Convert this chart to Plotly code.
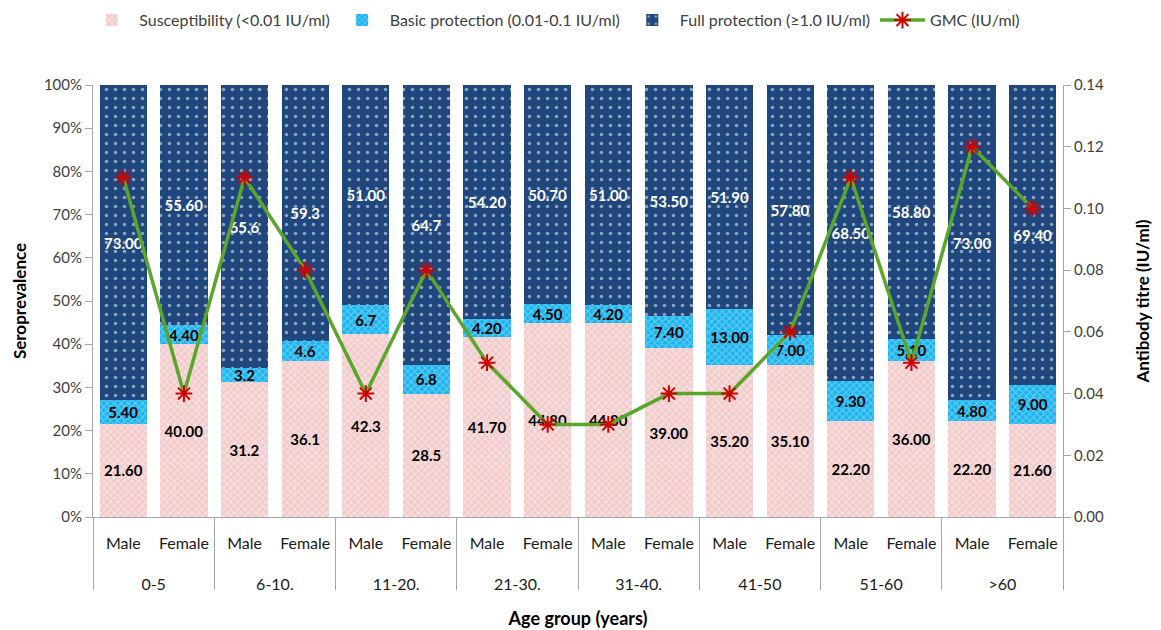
import plotly.graph_objects as go

# Age groups and sexes (two-level category axis)
age_groups = ["0-5", "6-10.", "11-20.", "21-30.", "31-40.", "41-50", "51-60", ">60"]
sexes = ["Male", "Female"]

# Seroprevalence by antibody level (%), Male/Female per age group
susceptibility = ["21.60", "40.00", "31.2", "36.1", "42.3", "28.5", "41.70", "44.80",
                  "44.80", "39.00", "35.20", "35.10", "22.20", "36.00", "22.20", "21.60"]
basic_protection = ["5.40", "4.40", "3.2", "4.6", "6.7", "6.8", "4.20", "4.50",
                    "4.20", "7.40", "13.00", "7.00", "9.30", "5.10", "4.80", "9.00"]
full_protection = ["73.00", "55.60", "65.6", "59.3", "51.00", "64.7", "54.20", "50.70",
                   "51.00", "53.50", "51.90", "57.80", "68.50", "58.80", "73.00", "69.40"]

# Geometric mean concentration (IU/ml)
gmc = [0.11, 0.04, 0.11, 0.08, 0.04, 0.08, 0.05, 0.03,
       0.03, 0.04, 0.04, 0.06, 0.11, 0.05, 0.12, 0.10]

# Slot index for every (age group, sex) bar
n_sex = len(sexes)
slots = list(range(len(age_groups) * n_sex))
slot_sex = [sexes[i % n_sex] for i in slots]
group_centers = [g * n_sex + (n_sex - 1) / 2 for g in range(len(age_groups))]
group_edges = [g * n_sex - 0.5 for g in range(len(age_groups) + 1)]
x_range = [-0.5, len(slots) - 0.5]

FONT = "Lato"
AXIS_GREY = "#a6a6a6"

fig = go.Figure()

series = [
    ("Susceptibility (<0.01 IU/ml)", susceptibility,
     dict(bgcolor="#f7dcdc", fgcolor="#e6a6a6", shape="x", size=5, solidity=0.35), "black"),
    ("Basic protection (0.01-0.1 IU/ml)", basic_protection,
     dict(bgcolor="#1cb4ee", fgcolor="#bfeafb", shape="x", size=5, solidity=0.35), "black"),
    ("Full protection (≥1.0 IU/ml)", full_protection,
     dict(bgcolor="#1f477d", fgcolor="#ffffff", shape=".", size=9, solidity=0.12), "white"),
]

for name, vals, pat, tcolor in series:
    fig.add_trace(go.Bar(
        x=slots, y=[float(v) for v in vals], name=name,
        text=vals, texttemplate="%{text}",
        textposition="inside", insidetextanchor="middle", textangle=0,
        textfont=dict(family=FONT, size=15, color=tcolor, weight="bold"),
        marker=dict(color=pat["bgcolor"], line=dict(width=0), pattern=pat),
        hoverinfo="skip",
    ))

fig.add_trace(go.Scatter(
    x=slots, y=gmc, name="GMC (IU/ml)", yaxis="y2", mode="lines+markers",
    line=dict(color="#5aa62a", width=3.5),
    marker=dict(symbol="asterisk-open", size=14, color="#d00000",
                line=dict(color="#d00000", width=2)),
))

# Empty traces so the divider axis and the group-label axis get drawn
for ax in ("x2", "x3"):
    fig.add_trace(go.Scatter(x=[None], y=[None], xaxis=ax, yaxis="y",
                             showlegend=False, hoverinfo="skip"))

fig.update_layout(
    width=1161, height=630,
    barmode="stack", barnorm="percent", bargap=0.22,
    plot_bgcolor="white", paper_bgcolor="white",
    margin=dict(l=93, r=98, t=85, b=113, autoexpand=False),
    font=dict(family=FONT, size=16, color="#404040"),
    uniformtext=dict(minsize=15, mode="show"),
    legend=dict(orientation="h", x=0.476, xanchor="center", y=1.15, yanchor="middle",
                font=dict(size=16, color="#404040"), traceorder="normal",
                itemwidth=45),
    # sex labels under each bar
    xaxis=dict(
        range=x_range, tickvals=slots, ticktext=slot_sex, ticks="", tickangle=0,
        showline=True, linecolor=AXIS_GREY, linewidth=1, showgrid=False, zeroline=False,
        automargin=False, ticklabelstandoff=12, tickfont=dict(size=16, color="#1a1a1a"),
    ),
    # long tick marks separating the age groups
    xaxis2=dict(
        overlaying="x", anchor="y", side="bottom", range=x_range,
        tickvals=group_edges, ticks="outside", ticklen=72, tickwidth=1, tickcolor=AXIS_GREY,
        showticklabels=False, showline=False, showgrid=False, zeroline=False, automargin=False,
    ),
    # age group labels
    xaxis3=dict(
        overlaying="x", anchor="y", side="bottom", range=x_range,
        tickvals=group_centers, ticktext=age_groups, ticks="", tickangle=0,
        showline=False, showgrid=False, zeroline=False, automargin=False,
        ticklabelstandoff=56, tickfont=dict(size=16, color="#1a1a1a"),
        title=dict(text="<b>Age group (years)</b>", font=dict(size=18, color="black"), standoff=20),
    ),
    yaxis=dict(
        range=[0, 100], dtick=10, ticksuffix="%", showgrid=False, automargin=False,
        showline=True, linecolor=AXIS_GREY, ticks="outside", ticklen=7, tickcolor=AXIS_GREY,
        tickfont=dict(size=15, color="#404040"), zeroline=False,
        title=dict(text="<b>Seroprevalence</b>", font=dict(size=17, color="black"), standoff=12),
    ),
    yaxis2=dict(
        overlaying="y", side="right", range=[0, 0.14], dtick=0.02, tickformat=".2f",
        showgrid=False, automargin=False, zeroline=False,
        showline=True, linecolor=AXIS_GREY, ticks="outside", ticklen=7,
        tickcolor=AXIS_GREY, tickfont=dict(size=15, color="#404040"),
        title=dict(text="<b>Antibody titre (IU/ml)</b>", font=dict(size=17, color="black"), standoff=34),
    ),
)

fig.write_html("out.html")
